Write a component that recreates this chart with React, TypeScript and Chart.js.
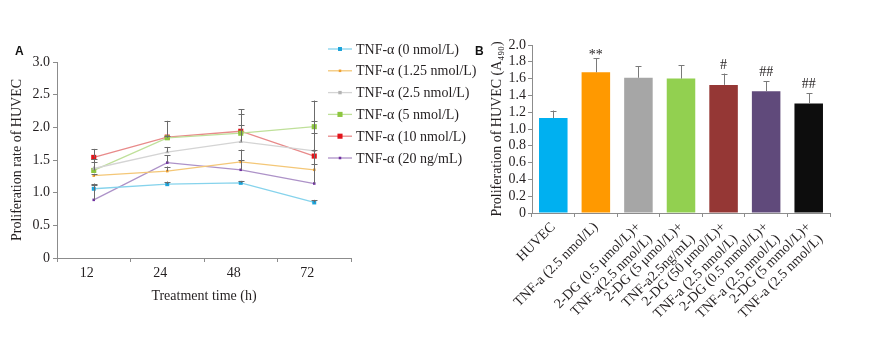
import React, { useEffect, useRef } from 'react';
import { Chart, registerables } from 'chart.js';

Chart.register(...registerables);

// ---------- Panel A data ----------
const timeLabels = ['12', '24', '48', '72'];
const seriesNamesA = [
  'TNF-α (0 nmol/L)',
  'TNF-α (1.25 nmol/L)',
  'TNF-α (2.5 nmol/L)',
  'TNF-α (5 nmol/L)',
  'TNF-α (10 nmol/L)',
  'TNF-α (20 ng/mL)',
];
const tnf0 = [1.06, 1.13, 1.15, 0.85];
const tnf125 = [1.26, 1.33, 1.47, 1.35];
const tnf25 = [1.37, 1.62, 1.78, 1.64];
const tnf5 = [1.34, 1.84, 1.91, 2.01];
const tnf10 = [1.54, 1.85, 1.94, 1.56];
const tnf20 = [0.89, 1.46, 1.35, 1.14];
const err0 = [0.08, 0.04, 0.03, 0.04];
const err125 = [0.03, 0.07, 0.19, 0.3];
const err25 = [0.1, 0.08, 0.25, 0.45];
const err5 = [0.18, 0.03, 0.29, 0.4];
const err10 = [0.13, 0.25, 0.34, 0.36];
const err20 = [0.22, 0.11, 0.15, 0.3];
const yTicksA = [0, 0.5, 1.0, 1.5, 2.0, 2.5, 3.0];

// ---------- Panel B data ----------
const groupLabelsB: (string | string[])[] = [
  'HUVEC',
  'TNF-a (2.5 nmol/L)',
  ['2-DG (0.5 μmol/L)+', 'TNF-a(2.5 nmol/L)'],
  ['2-DG (5 μmol/L)+', 'TNF-a2.5ng/mL)'],
  ['2-DG (50 μmol/L)+', 'TNF-a (2.5 nmol/L)'],
  ['2-DG (0.5 mmol/L)+', 'TNF-a (2.5 nmol/L)'],
  ['2-DG (5 mmol/L)+', 'TNF-a (2.5 nmol/L)'],
];
const proliferationB = [1.13, 1.675, 1.61, 1.6, 1.525, 1.45, 1.305];
const errB = [0.09, 0.165, 0.14, 0.16, 0.135, 0.12, 0.12];
const sigMarksB = ['', '**', '', '', '#', '##', '##'];
const yTicksB = [0, 0.2, 0.4, 0.6, 0.8, 1.0, 1.2, 1.4, 1.6, 1.8, 2.0];

const SERIF = '"Liberation Serif", "Times New Roman", serif';
const TXT = '#231f20';
const AXIS = '#8c8c8c';

const styleA = [
  { line: '#86d3ec', mark: '#1aa3da', r: 2.8, ps: 'rect' },
  { line: '#f4c777', mark: '#f0a030', r: 1.8, ps: 'rect' },
  { line: '#d4d4d4', mark: '#b3b3b3', r: 2.4, ps: 'triangle' },
  { line: '#bfe09a', mark: '#8dc63f', r: 3.6, ps: 'rect' },
  { line: '#e88a8a', mark: '#e3141b', r: 3.6, ps: 'rect' },
  { line: '#ad92c8', mark: '#7030a0', r: 1.8, ps: 'rect' },
];
const colorsB = ['#00b0f0', '#ff9900', '#a6a6a6', '#92d050', '#953735', '#604a7b', '#0d0d0d'];

const errorBarPlugin = {
  id: 'errorBars',
  afterDatasetsDraw(chart: any, _args: any, opts: any) {
    const ctx = chart.ctx;
    const yScale = chart.scales.y;
    ctx.save();
    ctx.strokeStyle = opts.color || '#666';
    ctx.lineWidth = 1;
    chart.data.datasets.forEach((ds: any, di: number) => {
      const meta = chart.getDatasetMeta(di);
      if (!ds.errUp) return;
      meta.data.forEach((el: any, i: number) => {
        const v = ds.data[i];
        const top = yScale.getPixelForValue(v + ds.errUp[i]);
        const x = Math.round(el.x) + 0.5;
        const y0 = el.y;
        const half = opts.cap || 3;
        ctx.beginPath();
        ctx.moveTo(x, y0);
        ctx.lineTo(x, top);
        ctx.moveTo(x - half, Math.round(top) + 0.5);
        ctx.lineTo(x + half, Math.round(top) + 0.5);
        ctx.stroke();
      });
    });
    ctx.restore();
  },
};

const legendAPlugin = {
  id: 'legendA',
  afterDraw(chart: any) {
    const ctx = chart.ctx;
    ctx.save();
    ctx.font = `14px ${SERIF}`;
    ctx.textBaseline = 'middle';
    ctx.fillStyle = TXT;
    chart.data.datasets.forEach((ds: any, i: number) => {
      const y = 49 + i * 21.8;
      ctx.strokeStyle = ds.borderColor;
      ctx.lineWidth = 1.3;
      ctx.beginPath();
      ctx.moveTo(328, y);
      ctx.lineTo(352, y);
      ctx.stroke();
      const s = ds.pointRadius * 1.414;
      ctx.fillStyle = ds.pointBackgroundColor;
      ctx.fillRect(340 - s / 2, y - s / 2, s, s);
      ctx.fillStyle = TXT;
      ctx.fillText(ds.label, 356, y + 1);
    });
    ctx.restore();
  },
};

const sigPlugin = {
  id: 'sigMarks',
  afterDraw(chart: any) {
    const ctx = chart.ctx;
    const yScale = chart.scales.y;
    const meta = chart.getDatasetMeta(0);
    ctx.save();
    ctx.font = `14px ${SERIF}`;
    ctx.textAlign = 'center';
    ctx.textBaseline = 'alphabetic';
    ctx.fillStyle = TXT;
    sigMarksB.forEach((m, i) => {
      if (!m) return;
      const el = meta.data[i];
      const top = yScale.getPixelForValue(proliferationB[i] + errB[i]);
      const dy = m === '**' ? 1 : -5;
      ctx.fillText(m, el.x, top + dy);
    });
    ctx.restore();
  },
};

export default function App() {
  const refA = useRef<HTMLCanvasElement>(null);
  const refB = useRef<HTMLCanvasElement>(null);

  useEffect(() => {
    const font = { family: SERIF, size: 14 };
    const seriesValues = [tnf0, tnf125, tnf25, tnf5, tnf10, tnf20];
    const seriesErr = [err0, err125, err25, err5, err10, err20];
    const fmt = (v: any) => (Number(v) === 0 ? '0' : Number(v).toFixed(1));

    const chartA = new Chart(refA.current as HTMLCanvasElement, {
      type: 'line',
      data: {
        labels: timeLabels,
        datasets: seriesNamesA.map((name, i) => ({
          label: name,
          data: seriesValues[i],
          errUp: seriesErr[i],
          borderColor: styleA[i].line,
          backgroundColor: styleA[i].mark,
          pointBackgroundColor: styleA[i].mark,
          pointBorderColor: styleA[i].mark,
          pointBorderWidth: 0,
          pointRadius: styleA[i].r,
          pointStyle: styleA[i].ps,
          borderWidth: 1.3,
          tension: 0,
        })) as any,
      },
      options: {
        animation: false,
        responsive: false,
        maintainAspectRatio: false,
        layout: { padding: { left: 0, top: 62, right: 129, bottom: 0 } },
        plugins: {
          legend: { display: false },
          tooltip: { enabled: false },
          errorBars: { color: '#6b6b6b', cap: 3 },
        } as any,
        scales: {
          x: {
            offset: true,
            grid: { offset: true, drawOnChartArea: false, tickLength: 4, color: AXIS },
            border: { color: AXIS },
            ticks: { font, color: TXT, padding: 3, labelOffset: -7 },
            title: {
              display: true,
              text: 'Treatment time (h)',
              font,
              color: TXT,
              padding: { top: 0, bottom: 36 },
            },
            afterFit: (s: any) => {
              s.height = 83;
            },
          },
          y: {
            min: 0,
            max: 3,
            afterBuildTicks: (s: any) => {
              s.ticks = yTicksA.map((v) => ({ value: v }));
            },
            grid: { drawOnChartArea: false, tickLength: 4, color: AXIS },
            border: { color: AXIS },
            ticks: { font, color: TXT, padding: 3, autoSkip: false, callback: fmt },
            title: {
              display: true,
              text: 'Proliferation rate of HUVEC',
              font,
              color: TXT,
              padding: { top: 9, bottom: 0 },
            },
            afterFit: (s: any) => {
              s.width = 57;
            },
          },
        },
      } as any,
      plugins: [errorBarPlugin, legendAPlugin],
    });

    const chartB = new Chart(refB.current as HTMLCanvasElement, {
      type: 'bar',
      data: {
        labels: groupLabelsB as any,
        datasets: [
          {
            label: 'Proliferation',
            data: proliferationB,
            errUp: errB,
            backgroundColor: colorsB,
            borderWidth: 0,
            categoryPercentage: 1,
            barPercentage: 0.67,
          } as any,
        ],
      },
      options: {
        animation: false,
        responsive: false,
        maintainAspectRatio: false,
        layout: { padding: { left: 0, top: 45, right: 53, bottom: 0 } },
        plugins: {
          legend: { display: false },
          tooltip: { enabled: false },
          errorBars: { color: '#7a7a7a', cap: 3 },
        } as any,
        scales: {
          x: {
            grid: { offset: true, drawOnChartArea: false, tickLength: 4, color: AXIS },
            border: { color: AXIS },
            ticks: {
              font: { family: SERIF, size: 14 },
              color: TXT,
              padding: 2,
              minRotation: 45,
              maxRotation: 45,
              autoSkip: false,
            },
            afterFit: (s: any) => {
              s.height = 128;
            },
          },
          y: {
            min: 0,
            max: 2,
            afterBuildTicks: (s: any) => {
              s.ticks = yTicksB.map((v) => ({ value: v }));
            },
            ticks: { font, color: TXT, padding: 2, autoSkip: false, callback: fmt },
            grid: { drawOnChartArea: false, tickLength: 4, color: AXIS },
            border: { color: AXIS },
            title: {
              display: true,
              text: 'Proliferation of HUVEC (A₄₉₀)',
              font,
              color: TXT,
              padding: { top: 9, bottom: 0 },
            },
            afterFit: (s: any) => {
              s.width = 52;
            },
          },
        },
      } as any,
      plugins: [errorBarPlugin, sigPlugin],
    });

    return () => {
      chartA.destroy();
      chartB.destroy();
    };
  }, []);

  const letter: React.CSSProperties = {
    position: 'absolute',
    font: 'bold 12px "Liberation Sans", Arial, sans-serif',
    color: '#111',
    lineHeight: '12px',
  };

  return (
    <div style={{ position: 'absolute', left: 0, top: 0, width: 883, height: 341, background: '#fff' }}>
      <canvas
        ref={refA}
        width={480}
        height={341}
        style={{ position: 'absolute', left: 0, top: 0, width: 480, height: 341 }}
      />
      <canvas
        ref={refB}
        width={403}
        height={341}
        style={{ position: 'absolute', left: 480, top: 0, width: 403, height: 341 }}
      />
      <span style={{ ...letter, left: 15, top: 45 }}>A</span>
      <span style={{ ...letter, left: 475, top: 45 }}>B</span>
    </div>
  );
}
